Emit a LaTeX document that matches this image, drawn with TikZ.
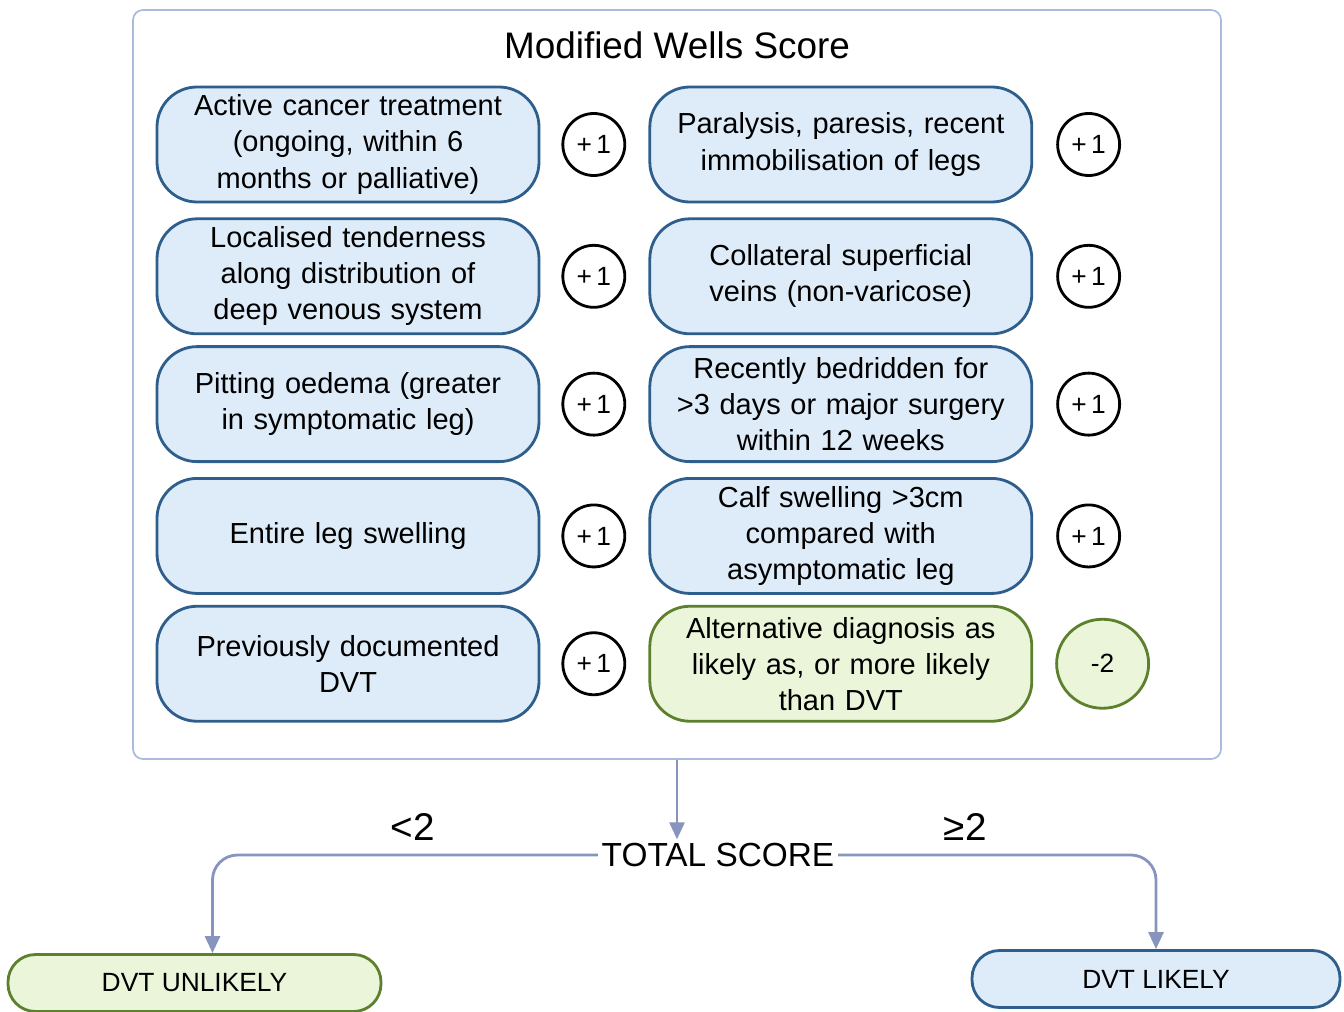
\documentclass[tikz,border=0pt]{standalone}
\usepackage{fontspec}
\setmainfont{Liberation Sans}
\usepackage{tikz}
\usetikzlibrary{
  shapes.geometric,
  arrows.meta,
  positioning, backgrounds
}
\definecolor{critfill}{RGB}{222,235,248}
\definecolor{critdraw}{RGB}{46,94,140}
\definecolor{altfill}{RGB}{235,245,218}
\definecolor{altdraw}{RGB}{92,128,44}
\definecolor{framedraw}{RGB}{172,186,222}
\definecolor{flowline}{RGB}{135,148,190}
\tikzset{
  % Criteria boxes
  critnode/.style={
    rectangle, rounded corners=0.8cm,
    fill=critfill, draw=critdraw, line width=1.6pt,
    text width=7.2cm, inner xsep=0.22cm, inner ysep=2pt, align=center,
    minimum height=2.3cm, font=\fontsize{16.5}{20.5}\selectfont
  },
  altnode/.style={
    critnode, fill=altfill, draw=altdraw
  },
  % Score bubbles
  ptnode/.style={
    circle, draw=black, line width=1.6pt, fill=white,
    minimum size=1.24cm, inner sep=0pt,
    font=\fontsize{15}{18}\selectfont
  },
  negnode/.style={
    ellipse, draw=altdraw, fill=altfill, line width=1.6pt,
    minimum width=1.84cm, minimum height=1.78cm, inner sep=0pt,
    font=\fontsize{15}{18}\selectfont
  },
  % Outcome boxes
  outnode/.style={
    rectangle, rounded corners=0.55cm,
    fill=critfill, draw=critdraw, line width=1.6pt,
    minimum height=1.14cm, font=\fontsize{15}{18}\selectfont
  },
  outgreen/.style={
    outnode, fill=altfill, draw=altdraw
  },
  framebox/.style={
    rectangle, rounded corners=0.2cm,
    draw=framedraw, line width=1pt, fill=white
  },
  flowarrow/.style={
    -{Triangle[length=0.34cm,width=0.3cm]}, line width=1.6pt,
    draw=flowline, rounded corners=0.5cm
  },
  branchlbl/.style={
    font=\fontsize{22}{26}\selectfont, inner sep=2pt
  }
}
\begin{document}
\begin{tikzpicture}
  \useasboundingbox (0,0) rectangle (26.88,-20.24);

  % --- Title ---
  \node[font=\fontsize{21}{25}\selectfont] (title) at (13.54,-0.9) {Modified Wells Score};

  % --- Left column ---
  \node[critnode] (c1) at (6.96,-2.89) {Active cancer treatment\\(ongoing, within 6\\months or palliative)};
  \node[critnode, below=0.28cm of c1] (c2) {Localised tenderness\\along distribution of\\deep venous system};
  \node[critnode, below=0.2cm of c2] (c3) {Pitting oedema (greater\\in symptomatic leg)};
  \node[critnode, below=0.28cm of c3] (c4) {Entire leg swelling};
  \node[critnode, below=0.2cm of c4] (c5) {Previously documented\\DVT};

  \node[ptnode, right=0.42cm of c1] (p1) {+\,1};
  \node[ptnode, right=0.42cm of c2] (p2) {+\,1};
  \node[ptnode, right=0.42cm of c3] (p3) {+\,1};
  \node[ptnode, right=0.42cm of c4] (p4) {+\,1};
  \node[ptnode, right=0.42cm of c5] (p5) {+\,1};

  % --- Right column ---
  \node[critnode, right=2.16cm of c1] (r1) {Paralysis, paresis, recent\\immobilisation of legs};
  \node[critnode, right=2.16cm of c2] (r2) {Collateral superficial\\veins (non-varicose)};
  \node[critnode, right=2.16cm of c3] (r3) {Recently bedridden for\\>3 days or major surgery\\within 12 weeks};
  \node[critnode, right=2.16cm of c4] (r4) {Calf swelling >3cm\\compared with\\asymptomatic leg};
  \node[altnode, right=2.16cm of c5] (r5) {Alternative diagnosis as\\likely as, or more likely\\than DVT};

  \node[ptnode, right=0.46cm of r1] (q1) {+\,1};
  \node[ptnode, right=0.46cm of r2] (q2) {+\,1};
  \node[ptnode, right=0.46cm of r3] (q3) {+\,1};
  \node[ptnode, right=0.46cm of r4] (q4) {+\,1};
  \node[negnode, right=0.44cm of r5] (q5) {-2};

  % box around criteria
  \begin{scope}[on background layer]
    \node[framebox, minimum width=21.76cm, minimum height=14.98cm] (frame) at (13.54,-7.69) {};
  \end{scope}

  % --- Total score and outcomes ---
  \node[font=\fontsize{19}{23}\selectfont, inner sep=2pt] (total) at (14.36,-17.1) {TOTAL SCORE};
  \node[outgreen, minimum width=7.46cm] (unlikely) at (3.89,-19.66) {DVT UNLIKELY};
  \node[outnode, minimum width=7.36cm] (likely) at (23.12,-19.58) {DVT LIKELY};

  \draw[flowarrow] (frame.south) -- (frame.south |- total.north);
  \draw[flowarrow] (total.west) -| ([xshift=0.36cm]unlikely.north)
    node[branchlbl, pos=0.24, above=0.2cm] {<2};
  \draw[flowarrow] (total.east) -| (likely.north)
    node[branchlbl, pos=0.2, above=0.2cm] {≥2};

\end{tikzpicture}
\end{document}
